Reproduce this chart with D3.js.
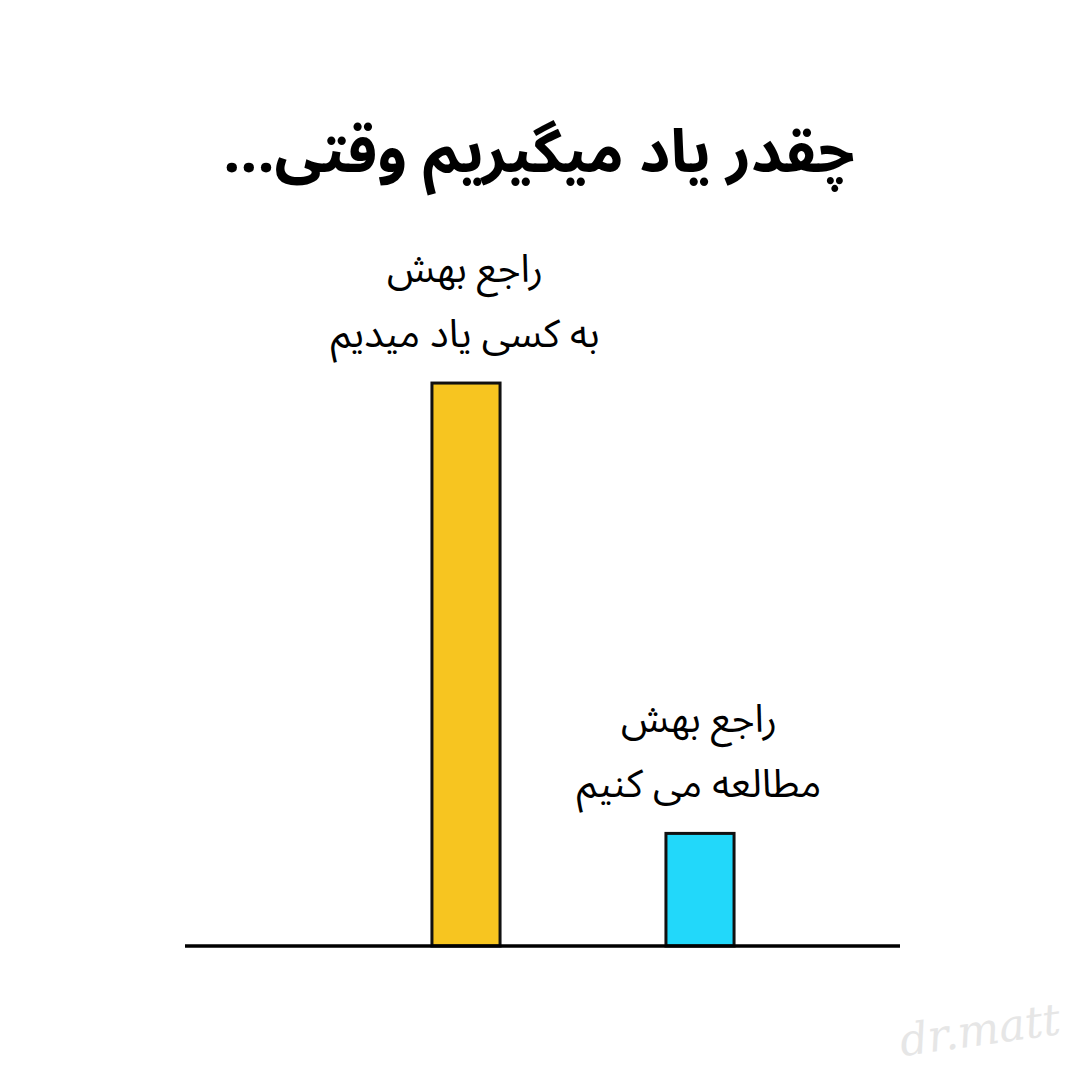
<!DOCTYPE html>
<html><head><meta charset="utf-8">
<script src="https://cdn.jsdelivr.net/npm/d3@7"></script>
<style>
html,body{margin:0;padding:0;background:#fff;}
svg{display:block;}
</style></head>
<body>
<script>
const categories = ["teach", "read"];
const values = [90, 18];
const colors = ["#F7C520", "#22D8FA"];
const labelLine1 = ["راجع بهش", "راجع بهش"];
const labelLine2 = ["به کسی یاد میدیم", "مطالعه می کنیم"];
const title = "چقدر یاد میگیریم وقتی...";
const watermark = "dr.matt";

const W = 1079, H = 1079;
const svg = d3.select("body").append("svg").attr("width", W).attr("height", H);
svg.append("rect").attr("width", W).attr("height", H).attr("fill", "#fff");

const fontFa = "'Noto Sans Arabic','Vazirmatn','DejaVu Sans','Noto Sans',sans-serif";

const x = d3.scaleBand().domain(categories).range([349, 817]).paddingInner(0.709).paddingOuter(0.3545);
const y = d3.scaleLinear().domain([0, 100]).range([946, 320.5]);

// title
svg.append("text")
  .attr("x", 539).attr("y", 172)
  .attr("text-anchor", "middle")
  .attr("direction", "rtl")
  .attr("font-family", fontFa)
  .attr("font-weight", "bold")
  .attr("font-size", 60)
  .attr("fill", "#000")
  .text(title);

// bars
svg.selectAll("rect.bar").data(categories).enter().append("rect")
  .attr("class", "bar")
  .attr("x", d => x(d))
  .attr("width", x.bandwidth())
  .attr("y", (d, i) => y(values[i]))
  .attr("height", (d, i) => y(0) - y(values[i]))
  .attr("fill", (d, i) => colors[i])
  .attr("stroke", "#111")
  .attr("stroke-width", 3);

// labels
const g = svg.selectAll("g.lab").data(categories).enter().append("g").attr("class", "lab");
g.append("text")
  .attr("x", d => x(d) + x.bandwidth() / 2 - 1)
  .attr("y", (d, i) => y(values[i]) - 101)
  .attr("text-anchor", "middle").attr("direction", "rtl")
  .attr("font-family", fontFa).attr("font-size", 39).attr("fill", "#000")
  .text((d, i) => labelLine1[i]);
g.append("text")
  .attr("x", d => x(d) + x.bandwidth() / 2 - 1)
  .attr("y", (d, i) => y(values[i]) - 36)
  .attr("text-anchor", "middle").attr("direction", "rtl")
  .attr("font-family", fontFa).attr("font-size", 39).attr("fill", "#000")
  .text((d, i) => labelLine2[i]);

// baseline
svg.append("line")
  .attr("x1", 185).attr("x2", 900)
  .attr("y1", y(0)).attr("y2", y(0))
  .attr("stroke", "#000").attr("stroke-width", 3.5);

// watermark
svg.append("text")
  .attr("transform", "translate(982,1045) rotate(-8)")
  .attr("text-anchor", "middle")
  .attr("font-family", "'DejaVu Serif',serif")
  .attr("font-style", "italic")
  .attr("font-size", 44)
  .attr("fill", "#e6e6e6")
  .text(watermark);
</script>
</body></html>
